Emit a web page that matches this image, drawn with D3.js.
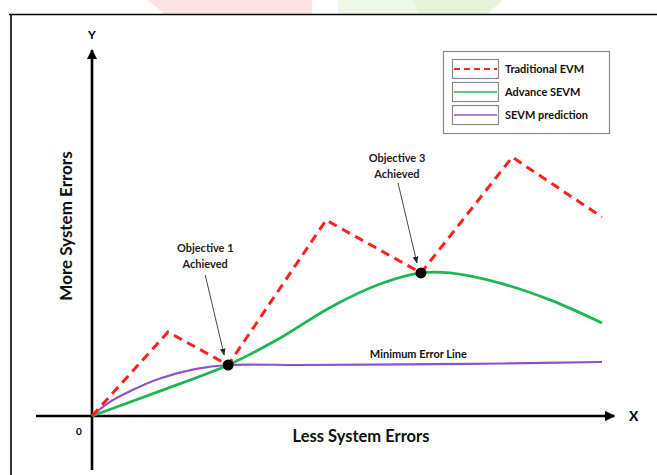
<!DOCTYPE html>
<html><head><meta charset="utf-8">
<script src="https://cdn.jsdelivr.net/npm/d3@7"></script>
<style>body{margin:0;background:#fff}svg{display:block}</style>
</head><body>
<svg id="c" width="657" height="475"></svg>
<script>
// ---- data (abstract units, x: 0..10, y: 0..10) ----
const redX = [0, 1.49, 2.67, 4.59, 6.45, 8.24, 10];
const redY = [0, 2.80, 1.70, 6.53, 4.77, 8.63, 6.63];
const greenX = [0, 1.33, 2.67, 3.69, 4.67, 5.65, 6.45, 7.02, 8.0, 8.98, 10];
const greenY = [0, 0.83, 1.70, 2.60, 3.62, 4.40, 4.77, 4.77, 4.43, 3.87, 3.10];
const purpleX = [0, 0.35, 0.75, 1.33, 2.02, 2.67, 4.08, 6.08, 8.04, 10];
const purpleY = [0, 0.47, 0.83, 1.25, 1.56, 1.70, 1.70, 1.72, 1.75, 1.80];
const objX = [2.67, 6.45];
const objY = [1.70, 4.77];
const objLabels = [["Objective 1", "Achieved"], ["Objective 3", "Achieved"]];
const legendLabels = ["Traditional EVM", "Advance SEVM", "SEVM prediction"];
const seriesColors = ["#ff1f1f", "#1fb552", "#8f52c6"];
const xAxisLabel = "Less System Errors";
const yAxisLabel = "More System Errors";
const minLineLabel = "Minimum Error Line";

const svg = d3.select("#c");
const x = d3.scaleLinear().domain([0, 10]).range([92, 602]);
const y = d3.scaleLinear().domain([0, 10]).range([416, 116]);
const FONT = "Lato, 'Open Sans', sans-serif";

// watermark remnants above frame
svg.append("polygon").attr("points", "147,0 312,0 312,14 165,14").attr("fill", "#fde3e3");
svg.append("polygon").attr("points", "338,0 503,0 487,14 338,14").attr("fill", "#eef8e4");
svg.append("polygon").attr("points", "413,0 503,0 487,14 420,14").attr("fill", "#e6f3da");

// frame
svg.append("line").attr("x1", 9).attr("x2", 657).attr("y1", 14.5).attr("y2", 14.5).attr("stroke", "#000").attr("stroke-width", 1.6);
svg.append("line").attr("x1", 11).attr("x2", 11).attr("y1", 14).attr("y2", 475).attr("stroke", "#000").attr("stroke-width", 1.6);

// axes
const defs = svg.append("defs");
defs.append("marker").attr("id", "ah").attr("viewBox", "0 0 10 10").attr("refX", 9).attr("refY", 5)
  .attr("markerWidth", 4).attr("markerHeight", 4).attr("markerUnits", "strokeWidth").attr("orient", "auto")
  .append("path").attr("d", "M0,0 L10,5 L0,10 Z").attr("fill", "#000");
defs.append("marker").attr("id", "ah2").attr("viewBox", "0 0 10 10").attr("refX", 9).attr("refY", 5)
  .attr("markerWidth", 7).attr("markerHeight", 7).attr("markerUnits", "userSpaceOnUse").attr("orient", "auto")
  .append("path").attr("d", "M0,1 L10,5 L0,9 Z").attr("fill", "#222");

svg.append("line").attr("x1", x(-1.1)).attr("x2", x(10.24)).attr("y1", y(0)).attr("y2", y(0))
  .attr("stroke", "#000").attr("stroke-width", 2.6).attr("marker-end", "url(#ah)");
svg.append("line").attr("x1", x(0)).attr("x2", x(0)).attr("y1", y(-1.8)).attr("y2", y(12.2))
  .attr("stroke", "#000").attr("stroke-width", 2.6).attr("marker-end", "url(#ah)");

svg.append("text").attr("x", x(10.62)).attr("y", y(0) + 5).attr("font-family", FONT).attr("font-weight", 700)
  .attr("font-size", 14).attr("text-anchor", "middle").text("X");
svg.append("text").attr("x", x(0)).attr("y", 39).attr("font-family", FONT).attr("font-weight", 700)
  .attr("font-size", 12).attr("text-anchor", "middle").text("Y");
svg.append("text").attr("x", 79).attr("y", 435).attr("font-family", FONT).attr("font-weight", 700)
  .attr("font-size", 10).attr("text-anchor", "middle").text("0");

svg.append("text").attr("x", 361).attr("y", 442).attr("font-family", FONT).attr("font-weight", 700)
  .attr("font-size", 16.5).attr("text-anchor", "middle").attr("fill", "#111").text(xAxisLabel);
svg.append("text").attr("transform", "translate(72,226) rotate(-90)").attr("font-family", FONT).attr("font-weight", 700)
  .attr("font-size", 17).attr("text-anchor", "middle").attr("fill", "#111").text(yAxisLabel);

// series
const toPts = (xs, ys) => xs.map((v, i) => [v, ys[i]]);
const lineLin = d3.line().x(d => x(d[0])).y(d => y(d[1]));
const lineSmooth = d3.line().x(d => x(d[0])).y(d => y(d[1])).curve(d3.curveCatmullRom.alpha(0.5));

svg.append("path").attr("d", lineSmooth(toPts(purpleX, purpleY))).attr("fill", "none")
  .attr("stroke", seriesColors[2]).attr("stroke-width", 2.2);
svg.append("path").attr("d", lineSmooth(toPts(greenX, greenY))).attr("fill", "none")
  .attr("stroke", seriesColors[1]).attr("stroke-width", 2.8);
svg.append("path").attr("d", lineLin(toPts(redX, redY))).attr("fill", "none")
  .attr("stroke", seriesColors[0]).attr("stroke-width", 3).attr("stroke-dasharray", "9,6");

// objective dots
svg.selectAll("circle.obj").data(objX).join("circle").attr("class", "obj")
  .attr("cx", d => x(d)).attr("cy", (d, i) => y(objY[i])).attr("r", 5.5).attr("fill", "#000");

// annotations
const annText = [[2.22, 5.47], [5.98, 8.47]]; // text anchor (units)
const annArrowStart = [[2.22, 4.7], [6.0, 7.77]];
objX.forEach((ox, i) => {
  const g = svg.append("g");
  g.append("text").attr("x", x(annText[i][0])).attr("y", y(annText[i][1])).attr("font-family", FONT)
    .attr("font-weight", 700).attr("font-size", 11).attr("text-anchor", "middle").attr("fill", "#222")
    .selectAll("tspan").data(objLabels[i]).join("tspan").attr("x", x(annText[i][0])).attr("dy", (d, j) => j ? 16 : 0).text(d => d);
  g.append("line").attr("x1", x(annArrowStart[i][0])).attr("y1", y(annArrowStart[i][1]))
    .attr("x2", x(ox) - 4).attr("y2", y(objY[i]) - 10).attr("stroke", "#333").attr("stroke-width", 0.9)
    .attr("marker-end", "url(#ah2)");
});

svg.append("text").attr("x", x(6.4)).attr("y", y(1.94)).attr("font-family", FONT).attr("font-weight", 700)
  .attr("font-size", 11).attr("text-anchor", "middle").attr("fill", "#111").text(minLineLabel);

// legend
const lg = svg.append("g");
lg.append("rect").attr("x", 443.5).attr("y", 51.5).attr("width", 166).attr("height", 82)
  .attr("fill", "#fff").attr("stroke", "#8a8a8a").attr("stroke-width", 1.2);
legendLabels.forEach((lab, i) => {
  const cy = 69 + i * 23;
  lg.append("rect").attr("x", 452.5).attr("y", cy - 9.5).attr("width", 46).attr("height", 19)
    .attr("fill", "#fff").attr("stroke", "#8a8a8a").attr("stroke-width", 1.2);
  lg.append("line").attr("x1", 454).attr("x2", 497).attr("y1", cy).attr("y2", cy)
    .attr("stroke", seriesColors[i]).attr("stroke-width", i === 0 ? 1.8 : 1.6)
    .attr("stroke-dasharray", i === 0 ? "6,4" : null);
  lg.append("text").attr("x", 505).attr("y", cy + 4).attr("font-family", FONT).attr("font-weight", 700)
    .attr("font-size", 11).attr("fill", "#111").text(lab);
});
</script>
</body></html>
